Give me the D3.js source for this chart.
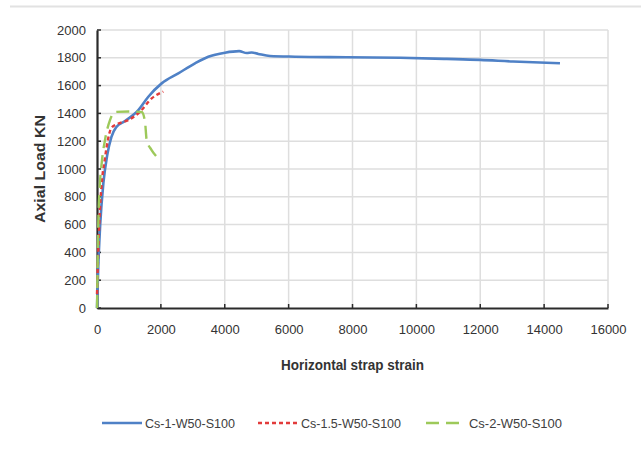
<!DOCTYPE html>
<html><head><meta charset="utf-8">
<script src="https://cdn.jsdelivr.net/npm/d3@7"></script>
<style>html,body{margin:0;padding:0;background:#fff;}svg{display:block;}</style>
</head><body>
<svg id="chart" width="641" height="450"></svg>
<script>
// ---- data ----
const seriesNames = ["Cs-1-W50-S100", "Cs-1.5-W50-S100", "Cs-2-W50-S100"];
const cs1Strain = [0, 40, 100, 200, 320, 450, 600, 877, 1294, 1607, 2025, 2546, 3068, 3485, 4008, 4450, 4690, 4843, 5050, 5416, 6200, 7818, 9500, 10949, 12000, 13025, 14496];
const cs1Load   = [0, 300, 600, 900, 1100, 1230, 1300, 1345, 1424, 1520, 1616, 1688, 1760, 1808, 1837, 1848, 1834, 1838, 1828, 1813, 1808, 1804, 1800, 1792, 1785, 1773, 1761];
const cs15Strain = [0, 25, 70, 150, 250, 350, 450, 650, 980, 1346, 1712, 2076];
const cs15Load   = [100, 300, 600, 900, 1080, 1220, 1295, 1325, 1352, 1412, 1508, 1556];
const cs2Strain = [0, 20, 40, 80, 150, 250, 407, 563, 1000, 1400, 1503, 1555, 1700, 1868];
const cs2Load   = [0, 300, 600, 850, 1050, 1208, 1352, 1410, 1414, 1410, 1340, 1208, 1140, 1088];
const xTicks = [0, 2000, 4000, 6000, 8000, 10000, 12000, 14000, 16000];
const yTicks = [0, 200, 400, 600, 800, 1000, 1200, 1400, 1600, 1800, 2000];
const xTitle = "Horizontal strap strain";
const yTitle = "Axial Load KN";

const series = [
  {name: seriesNames[0], xs: cs1Strain, ys: cs1Load, color: "#4f81c6", dash: null},
  {name: seriesNames[1], xs: cs15Strain, ys: cs15Load, color: "#e23b3b", dash: "4,3"},
  {name: seriesNames[2], xs: cs2Strain, ys: cs2Load, color: "#9dc95a", dash: "13,7"}
];

const svg = d3.select("#chart");
const font = "'Liberation Sans', Arial, sans-serif";

// top border line
svg.append("line").attr("x1", 10).attr("x2", 641).attr("y1", 6.5).attr("y2", 6.5)
  .attr("stroke", "#e2e2e2").attr("stroke-width", 2);

const x = d3.scaleLinear().domain([0, 16000]).range([97, 608]);
const y = d3.scaleLinear().domain([0, 2000]).range([308, 30]);

// gridlines
svg.append("g").selectAll("line").data(yTicks.slice(1)).join("line")
  .attr("x1", x(0)).attr("x2", x(16000)).attr("y1", d => y(d)).attr("y2", d => y(d))
  .attr("stroke", "#dedede").attr("stroke-width", 1.5);
svg.append("g").selectAll("line").data(xTicks.slice(1)).join("line")
  .attr("x1", d => x(d)).attr("x2", d => x(d)).attr("y1", y(0)).attr("y2", y(2000))
  .attr("stroke", "#dedede").attr("stroke-width", 1.5);

// axes
const xAxis = d3.axisBottom(x).tickValues(xTicks).tickSize(0).tickPadding(17).tickFormat(d3.format("d"));
const yAxis = d3.axisLeft(y).tickValues(yTicks).tickSize(0).tickPadding(11).tickFormat(d3.format("d"));

const gx = svg.append("g").attr("transform", `translate(0,${y(0)})`).call(xAxis);
const gy = svg.append("g").attr("transform", `translate(${x(0)},0)`).call(yAxis);
[gx, gy].forEach(g => {
  g.select(".domain").attr("stroke", "#2b2b2b").attr("stroke-width", 2.2);
  g.selectAll("text").attr("font-family", font).attr("font-size", 13).attr("fill", "#333");
});
// inward tick marks
svg.append("g").selectAll("line").data(xTicks).join("line")
  .attr("x1", d => x(d)).attr("x2", d => x(d)).attr("y1", y(0)).attr("y2", y(0) - 4)
  .attr("stroke", "#2b2b2b").attr("stroke-width", 1.5);
svg.append("g").selectAll("line").data(yTicks).join("line")
  .attr("x1", x(0)).attr("x2", x(0) + 4).attr("y1", d => y(d)).attr("y2", d => y(d))
  .attr("stroke", "#2b2b2b").attr("stroke-width", 1.5);

// axis titles
svg.append("text").attr("x", (x(0) + x(16000)) / 2).attr("y", 370)
  .attr("text-anchor", "middle").attr("font-family", font).attr("font-weight", "bold")
  .attr("font-size", 14).attr("fill", "#333").attr("textLength", 143).attr("lengthAdjust", "spacingAndGlyphs")
  .text(xTitle);
svg.append("text").attr("transform", `translate(45,${(y(0) + y(2000)) / 2}) rotate(-90)`)
  .attr("text-anchor", "middle").attr("font-family", font).attr("font-weight", "bold")
  .attr("font-size", 14).attr("fill", "#333").attr("textLength", 108).attr("lengthAdjust", "spacingAndGlyphs")
  .text(yTitle);

// lines
const line = d3.line().x(d => x(d[0])).y(d => y(d[1])).curve(d3.curveMonotoneX);
series.forEach((s, i) => {
  const pts = s.xs.map((v, k) => [v, s.ys[k]]);
  svg.append("path").datum(pts)
    .attr("d", line)
    .attr("fill", "none").attr("stroke", s.color).attr("stroke-width", i === 0 ? 2.6 : 2.4)
    .attr("stroke-dasharray", s.dash).attr("stroke-linejoin", "round");
});

// legend
const legX = [102, 258, 426];
const legW = [90, 100, 93];
const legY = 423;
series.forEach((s, i) => {
  svg.append("line").attr("x1", legX[i]).attr("x2", legX[i] + 40).attr("y1", legY).attr("y2", legY)
    .attr("stroke", s.color).attr("stroke-width", 2.5).attr("stroke-dasharray", s.dash);
  svg.append("text").attr("x", legX[i] + 43).attr("y", legY + 4.5)
    .attr("font-family", font).attr("font-size", 12.5).attr("fill", "#404040")
    .attr("textLength", legW[i]).attr("lengthAdjust", "spacingAndGlyphs")
    .text(s.name);
});
</script>
</body></html>
